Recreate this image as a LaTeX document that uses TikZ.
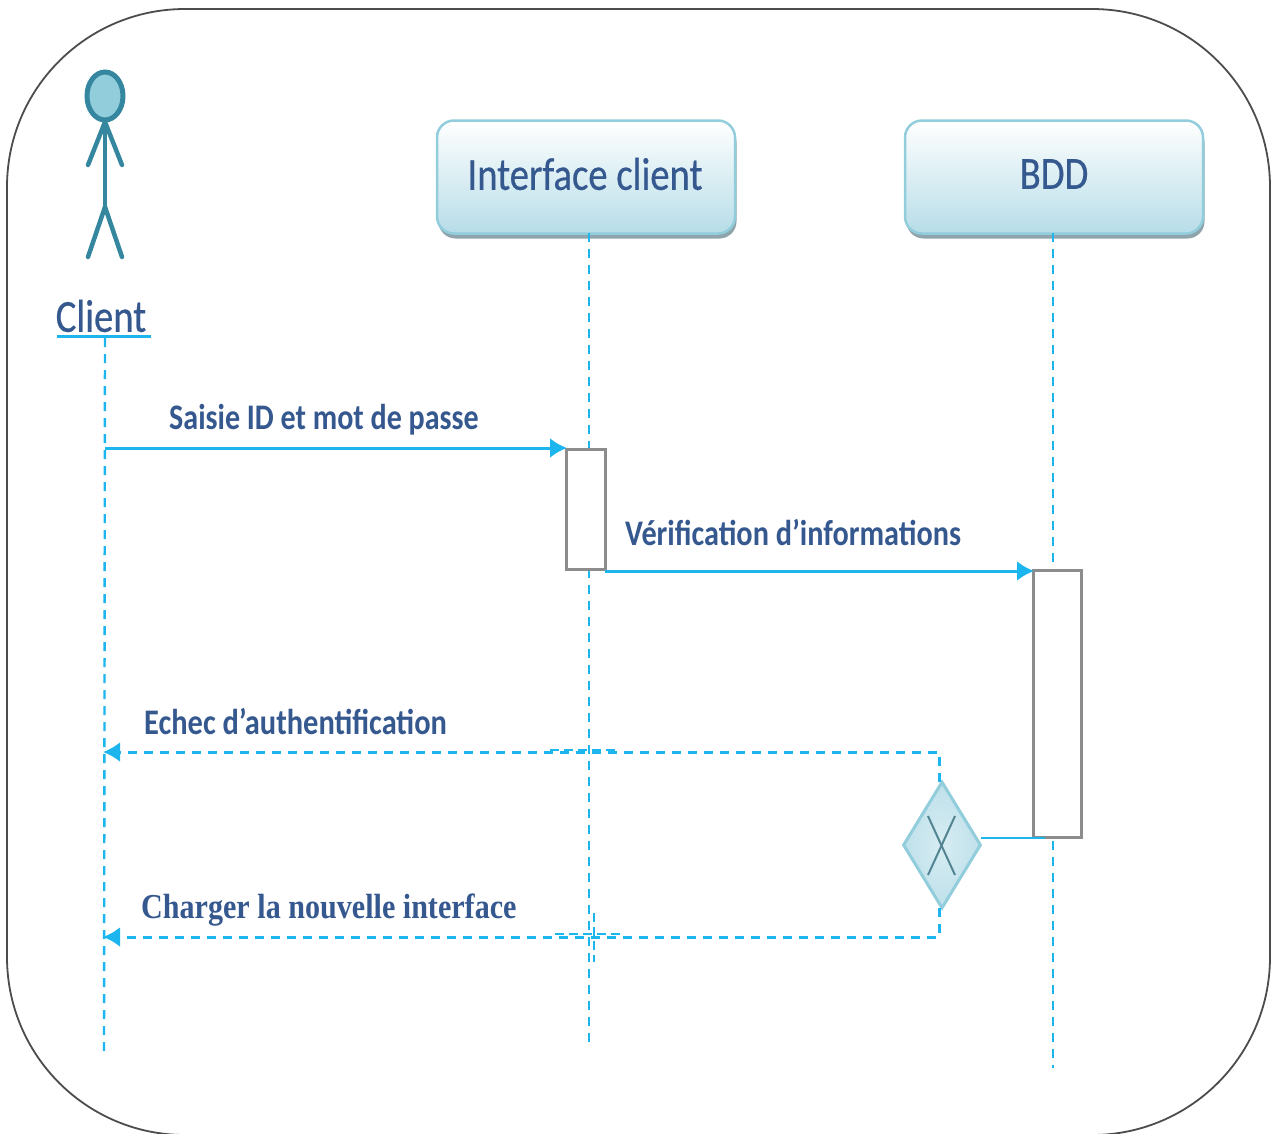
\documentclass[tikz,border=0pt]{standalone}
\usepackage{fontspec}
\setmainfont{Carlito}
\newfontfamily\serifbold{Liberation Serif}
\newfontfamily\semibold[FakeBold=0.6]{Carlito}
\usetikzlibrary{arrows.meta,shapes.geometric,calc}
\definecolor{cyanline}{HTML}{1CB5EE}
\definecolor{txt}{HTML}{35588F}
\definecolor{actor}{HTML}{34879F}
\definecolor{actorfill}{HTML}{92CDDC}
\definecolor{boxedge}{HTML}{92CDDC}
\definecolor{boxlow}{HTML}{B7DDE8}
\definecolor{shadowc}{HTML}{8FA4AC}
\tikzset{
  x=1pt,y=-1pt,
  frame/.style={draw=black!70,line width=1.8pt,rounded corners=178pt},
  headbox/.style={draw=boxedge,line width=2.5pt,rounded corners=17pt,top color=white,bottom color=boxlow,minimum width=298pt,minimum height=113pt,inner sep=0pt},
  headshadow/.style={fill=shadowc,rounded corners=17pt,minimum width=298pt,minimum height=113pt,inner sep=0pt},
  lifeline/.style={draw=cyanline,line width=2.4pt,dash pattern=on 9pt off 7pt},
  msg/.style={draw=cyanline,line width=3pt,-{Latex[length=17pt,width=20pt]}},
  ret/.style={draw=cyanline,line width=3pt,dash pattern=on 9pt off 7pt,-{Latex[length=17pt,width=20pt,sep=0pt]}},
  artefact/.style={draw=cyanline,line width=2pt,dash pattern=on 9pt off 5pt},
  activation/.style={draw=black!45,line width=3pt,fill=white,inner sep=0pt,anchor=north west},
  limb/.style={draw=actor,line width=4.5pt,line cap=round},
  label/.style={text=txt,inner sep=0pt,font=\bfseries\fontsize{36}{36}\selectfont},
  title/.style={text=txt,inner sep=0pt,font=\semibold\fontsize{46}{46}\selectfont},
}
\newcommand{\squeezed}[2]{\scalebox{#1}[1]{#2}}
\begin{document}
\begin{tikzpicture}
\useasboundingbox (0,0) rectangle (1277,1133);
\begin{scope}
\clip (0,0) rectangle (1277,1133);
\draw[frame] (7,9) rectangle (1270,1135);
\end{scope}

% head boxes
\node[headshadow] at (587.5,182) {};
\node[headshadow] at (1055.5,182) {};
\node[headbox] (iface) at (586,177) {};
\node[headbox] (bdd) at (1054,177) {};
\node[title] (ifaceText) at (585,174) {\squeezed{0.84}{Interface client}};
\node[title] (bddText) at (1054,174) {\squeezed{0.84}{BDD}};

% lifelines
\coordinate (clientTop) at (105,338);
\coordinate (clientEnd) at (104,1052);
\coordinate (ifaceTop) at (589,233);
\coordinate (ifaceEnd) at (589,1046);
\coordinate (bddTop) at (1053,233);
\coordinate (bddEnd) at (1053,1068);
\draw[lifeline] (clientTop) -- (clientEnd);
\draw[lifeline] (ifaceTop) -- (ifaceEnd);
\draw[lifeline] (bddTop) -- (bddEnd);

% actor
\node[draw=actor,fill=actorfill,line width=5pt,ellipse,minimum width=36pt,minimum height=48pt,inner sep=0pt] (head) at (105,96) {};
\coordinate (shoulder) at (105,122);
\coordinate (hip) at (105,207);
\coordinate (handL) at (88,165);
\coordinate (handR) at (122,165);
\coordinate (footL) at (88,257);
\coordinate (footR) at (122,257);
\draw[limb] (head.south) -- (hip);
\draw[limb] (shoulder) -- (handL);
\draw[limb] (shoulder) -- (handR);
\draw[limb] (hip) -- (footL);
\draw[limb] (hip) -- (footR);
\node[title] (clientText) at (101,316) {\squeezed{0.84}{Client}};
\coordinate (ulL) at (57,336.5);
\coordinate (ulR) at (151,336.5);
\draw[draw=cyanline,line width=2.5pt] (ulL) -- (ulR);

% activations
\node[activation,minimum width=39pt,minimum height=120pt] (act1) at (565,448) {};
\node[activation,minimum width=48pt,minimum height=267pt] (act2) at (1032,569) {};

% decision
\node[diamond,draw=boxedge,line width=3pt,inner color=boxlow!55,outer color=boxlow!90,minimum width=78pt,minimum height=127pt,inner sep=0pt,aspect=0.61] (dec) at (942,845) {};
\coordinate (x1) at (928,816);
\coordinate (x2) at (955,875);
\coordinate (x3) at (955,816);
\coordinate (x4) at (928,875);
\draw[draw=actor!60!gray,line width=2pt] (x1) -- (x2);
\draw[draw=actor!60!gray,line width=2pt] (x3) -- (x4);

% messages
\coordinate (m1s) at (105,448);
\coordinate (m1e) at (567,448);
\draw[msg] (m1s) -- (m1e);
\coordinate (m2s) at (605,571);
\coordinate (m2e) at (1034,571);
\draw[msg] (m2s) -- (m2e);
\coordinate (decIn) at (1045,838);
\coordinate (decOut) at (981,838);
\draw[draw=cyanline,line width=2.5pt] (decIn) -- (decOut);

% returns
\coordinate (r1s) at (939,782);
\coordinate (r1b) at (939,752);
\coordinate (c1) at (103,752);
\coordinate (r2s) at (939,908);
\coordinate (r2b) at (939,937);
\coordinate (c2) at (103,937);
\draw[ret] (r1s) -- (r1b) -- (c1);
\draw[ret] (r2s) -- (r2b) -- (c2);

% retouching marks on the returns
\coordinate (a1) at (550,750);
\coordinate (a2) at (618,750);
\coordinate (a3) at (555,933.5);
\coordinate (a4) at (620,933.5);
\coordinate (a5) at (593.5,913);
\coordinate (a6) at (593.5,962);
\draw[artefact] (a1) -- (a2);
\draw[artefact] (a3) -- (a4);
\draw[artefact] (a5) -- (a6);

% labels
\node[label,anchor=west] (l1) at (169,420) {\squeezed{0.835}{Saisie ID et mot de passe}};
\node[label,anchor=west] (l2) at (625,533) {\squeezed{0.84}{Vérification d’informations}};
\node[label,anchor=west] (l3) at (144,722) {\squeezed{0.845}{Echec d’authentification}};
\node[label,anchor=west] (l4) at (141,910) {\serifbold\fontsize{35}{35}\selectfont\squeezed{0.86}{Charger la nouvelle interface}};
\end{tikzpicture}
\end{document}
